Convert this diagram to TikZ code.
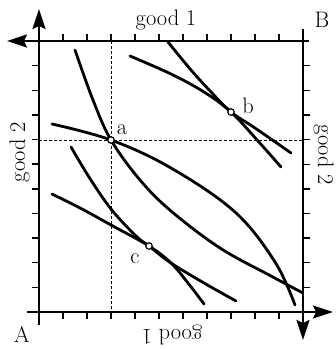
\documentclass[tikz,border=0pt]{standalone}
\usetikzlibrary{arrows.meta}
\begin{document}
\begin{tikzpicture}[x=1bp,y=-1bp,
  lbl/.style={inner sep=0pt, font=\fontsize{22.5}{25}\selectfont, anchor=base},
  axisline/.style={line width=2.5bp},
  tickline/.style={line width=1.4bp},
  icurve/.style={line width=2.8bp, line cap=round},
  guide/.style={line width=1bp, dash pattern=on 3bp off 2bp},
  dotmark/.style={circle, draw, fill=white, line width=1.2bp, inner sep=0pt, minimum size=6.5bp},
  axarrow/.style={-{Stealth[length=20bp,width=13bp,inset=3bp]}}
]
\useasboundingbox (0,0) rectangle (336,349);
% corners
\coordinate (OA) at (39,312);
\coordinate (OB) at (303,41);
% axis ends
\coordinate (Aylow) at (39,325);
\coordinate (Aytip) at (39,9);
\coordinate (Axlow) at (27,312);
\coordinate (Axtip) at (333,312);
\coordinate (Bxlow) at (309,41);
\coordinate (Bxtip) at (7,41);
\coordinate (Bylow) at (303,29);
\coordinate (Bytip) at (303,340);
% guide ends
\coordinate (gvt) at (111,41);
\coordinate (gvb) at (111,312);
\coordinate (ghl) at (39,140);
\coordinate (ghr) at (303,140);

% dashed guides
\draw[guide] (gvt) -- (gvb);
\draw[guide] (ghl) -- (ghr);

% ticks
\foreach \k in {1,...,10}{
  \draw[tickline] (39,{312-24.64*\k}) -- ++(-7,0);
  \draw[tickline] (303,{41+24.64*\k}) -- ++(7,0);
  \draw[tickline] ({39+24*\k},312) -- ++(0,7);
  \draw[tickline] ({303-24*\k},41) -- ++(0,-7);
}

% axes
\draw[axisline,axarrow] (Aylow) -- (Aytip);
\draw[axisline,axarrow] (Axlow) -- (Axtip);
\draw[axisline,axarrow] (Bxlow) -- (Bxtip);
\draw[axisline,axarrow] (Bylow) -- (Bytip);

% indifference curves through a
\draw[icurve] plot[smooth, tension=0.6] coordinates {(75,50) (93,100) (111,140) (140,180) (171,211) (220,248) (271,276) (303,293)};
\draw[icurve] plot[smooth, tension=0.6] coordinates {(52,124) (111,140) (171,168) (235,212) (275,262) (295,305)};
% through b
\draw[icurve] plot[smooth, tension=0.6] coordinates {(168,42) (191,70) (212,93) (231,112) (252,126) (271,139) (291,153)};
\draw[icurve] plot[smooth, tension=0.6] coordinates {(130,56) (171,74) (204,92) (231,112) (258,141) (281,167)};
% through c
\draw[icurve] plot[smooth, tension=0.6] coordinates {(71,147) (89,177) (111,209) (136,236) (149,246) (171,263) (204,283) (236,301)};
\draw[icurve] plot[smooth, tension=0.6] coordinates {(52,194) (82,209) (111,225) (149,246) (171,263) (188,283) (204,304)};

% points
\node[dotmark] (pa) at (111,140) {};
\node[dotmark] (pb) at (231,112) {};
\node[dotmark] (pc) at (149,246) {};

% labels
\node[lbl] (la) at (122,134) {a};
\node[lbl] (lb) at (248,113) {b};
\node[lbl] (lc) at (135,263) {c};
\node[lbl] (lA) at (22,342) {A};
\node[lbl] (lB) at (322,27) {B};
\node[lbl] (gtop) at (166,25) {good 1};
\node[lbl, rotate=180] (gbot) at (172,329) {good 1};
\node[lbl, rotate=90] (gleft) at (25,152) {good 2};
\node[lbl, rotate=-90] (gright) at (318,155) {good 2};
\end{tikzpicture}
\end{document}
